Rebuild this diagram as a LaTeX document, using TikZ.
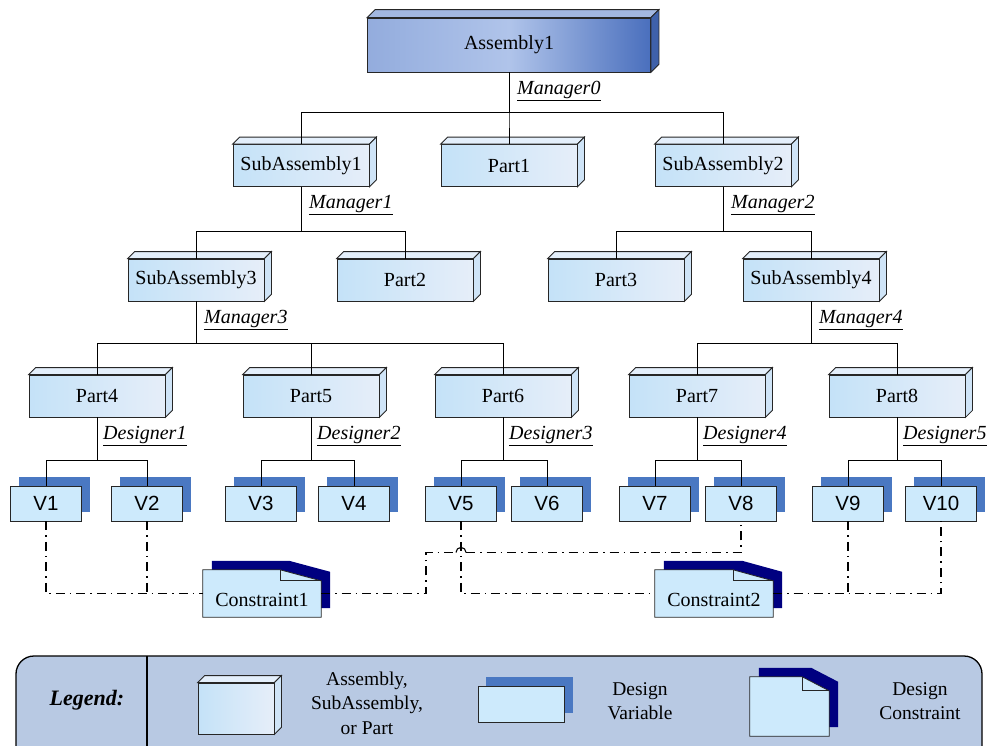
\documentclass[tikz,border=0pt]{standalone}
\usepackage{fontspec}
\setmainfont{Liberation Serif}
\setsansfont{Liberation Sans}
\usetikzlibrary{shadows,calc,backgrounds}

\definecolor{cubeL}{HTML}{C4E2F8}
\definecolor{cubeR}{HTML}{E6EEF9}
\definecolor{cubeTop}{HTML}{E4EFFB}
\definecolor{cubeSide}{HTML}{CFE4F7}
\definecolor{asmL}{HTML}{93ACDD}
\definecolor{asmM}{HTML}{B0C4EA}
\definecolor{asmR}{HTML}{4A6FBD}
\definecolor{asmTop}{HTML}{A2B7E0}
\definecolor{asmSide}{HTML}{3F61AA}
\definecolor{varFill}{HTML}{CDEAFC}
\definecolor{varShadow}{HTML}{4A78C2}
\definecolor{conShadow}{HTML}{000080}
\definecolor{legendFill}{HTML}{B8C9E3}

\newcommand\diagfont{\fontsize{20pt}{24pt}\selectfont}

% top and right faces of a 3D box node
\newcommand\cubefaces[4]{%
  \draw[boxline, fill=#3] (#1.north west) -- ++(#2,#2) -- ([shift={(#2,#2)}]#1.north east) -- (#1.north east) -- cycle;
  \draw[boxline, fill=#4] (#1.north east) -- ++(#2,#2) -- ([shift={(#2,#2)}]#1.south east) -- (#1.south east) -- cycle;
}
% sheet with folded corner and dark offset shadow: node, fold width, fold depth, shadow offset
\newcommand\consheet[4]{%
  \fill[conShadow] ([shift={(#4,#4)}]#1.south west) -- ([shift={(#4,#4)}]#1.north west)
    -- ([shift={(#4-#2,#4)}]#1.north east) -- ([shift={(#4,#4-#3)}]#1.north east)
    -- ([shift={(#4,#4)}]#1.south east) -- cycle;
  \draw[boxline, fill=varFill] (#1.south west) -- (#1.north west) -- ([xshift=-#2]#1.north east)
    -- ([yshift=-#3]#1.north east) -- (#1.south east) -- cycle;
  \draw[boxline] ([xshift=-#2]#1.north east) -- ([shift={(-#2,-#3)}]#1.north east) -- ([yshift=-#3]#1.north east);
}

\tikzset{
  boxline/.style={draw=black!85, line width=0.8pt},
  cube/.style={boxline, inner sep=0pt, minimum width=136pt, minimum height=42pt,
    left color=cubeL, right color=cubeR, font=\diagfont},
  varbox/.style={boxline, fill=varFill, inner sep=0pt, minimum width=71pt, minimum height=35pt,
    font=\sffamily\fontsize{20.5pt}{24pt}\selectfont,
    general shadow={fill=varShadow, draw=none, shadow xshift=8pt, shadow yshift=9pt}},
  cons/.style={inner sep=0pt, minimum width=118pt, minimum height=47pt, font=\diagfont,
    text height=25pt, text depth=0pt},
  tree/.style={draw=black, line width=0.9pt},
  dd/.style={draw=black, line width=1.1pt, dash pattern=on 9pt off 5pt on 1.5pt off 5pt},
  hopline/.style={draw=black, line width=1.1pt},
  lbl/.style={font=\diagfont\itshape, inner sep=0pt, anchor=base west},
  legtext/.style={font=\fontsize{19.5pt}{24.5pt}\selectfont, align=center, inner sep=0pt}
}

\begin{document}
\begin{tikzpicture}[x=1pt,y=-1pt]
\useasboundingbox (0,0) rectangle (994,745);

% legend frame
\begin{pgfonlayer}{background}
  \node[draw=black, line width=1.3pt, fill=legendFill, rounded corners=18pt, inner sep=0pt,
        minimum width=966pt, minimum height=116pt] (legend) at (499,714) {};
  \draw[line width=1.3pt] (147,656) -- (147,750);
\end{pgfonlayer}

% assembly tree
\node[cube, minimum width=283pt, minimum height=54pt, left color=asmL, right color=asmR, middle color=asmM] (a1) at (509,45) {Assembly1};
\cubefaces{a1}{8pt}{asmTop}{asmSide}

\node[cube] (s1) at (301,165.5) {SubAssembly1};
\node[cube] (p1) at (509,165.5) {Part1};
\node[cube] (s2) at (723,165.5) {SubAssembly2};
\node[cube] (s3) at (196,280) {SubAssembly3};
\node[cube] (p2) at (405,280) {Part2};
\node[cube] (p3) at (616,280) {Part3};
\node[cube] (s4) at (811,280) {SubAssembly4};
\node[cube] (p4) at (97,396) {Part4};
\node[cube] (p5) at (311,396) {Part5};
\node[cube] (p6) at (503,396) {Part6};
\node[cube] (p7) at (697,396) {Part7};
\node[cube] (p8) at (897,396) {Part8};
\foreach \n in {s1,p1,s2,s3,p2,p3,s4,p4,p5,p6,p7,p8}{\cubefaces{\n}{7pt}{cubeTop}{cubeSide}}

% design variables
\node[varbox] (v1) at (46,503.5) {V1};
\node[varbox] (v2) at (147,503.5) {V2};
\node[varbox] (v3) at (261,503.5) {V3};
\node[varbox] (v4) at (354,503.5) {V4};
\node[varbox] (v5) at (461,503.5) {V5};
\node[varbox] (v6) at (547,503.5) {V6};
\node[varbox] (v7) at (655,503.5) {V7};
\node[varbox] (v8) at (741,503.5) {V8};
\node[varbox] (v9) at (848,503.5) {V9};
\node[varbox] (v10) at (941,503.5) {V10};

% tree connectors
\foreach \c in {s1,p1,s2}{\draw[tree] (a1.south) -- ++(0,40) -| (\c.north);}
\foreach \c in {s3,p2}{\draw[tree] (s1.south) -- ++(0,45) -| (\c.north);}
\foreach \c in {p3,s4}{\draw[tree] (s2.south) -- ++(0,45) -| (\c.north);}
\foreach \c in {p4,p5,p6}{\draw[tree] (s3.south) -- ++(0,42) -| (\c.north);}
\foreach \c in {p7,p8}{\draw[tree] (s4.south) -- ++(0,42) -| (\c.north);}
\foreach \p/\a/\b in {p4/v1/v2,p5/v3/v4,p6/v5/v6,p7/v7/v8,p8/v9/v10}{
  \draw[tree] (\p.south) -- ++(0,43) -| (\a.north);
  \draw[tree] (\p.south) -- ++(0,43) -| (\b.north);
}

% owner labels
\node[lbl] (m0) at ([shift={(8pt,-22pt)}]a1.south) {\underline{Manager0}};
\node[lbl] (m1) at ([shift={(8pt,-22pt)}]s1.south) {\underline{Manager1}};
\node[lbl] (m2) at ([shift={(8pt,-22pt)}]s2.south) {\underline{Manager2}};
\node[lbl] (m3) at ([shift={(8pt,-22pt)}]s3.south) {\underline{Manager3}};
\node[lbl] (m4) at ([shift={(8pt,-22pt)}]s4.south) {\underline{Manager4}};
\node[lbl] (d1) at ([shift={(6pt,-22pt)}]p4.south) {\underline{Designer1}};
\node[lbl] (d2) at ([shift={(6pt,-22pt)}]p5.south) {\underline{Designer2}};
\node[lbl] (d3) at ([shift={(6pt,-22pt)}]p6.south) {\underline{Designer3}};
\node[lbl] (d4) at ([shift={(6pt,-22pt)}]p7.south) {\underline{Designer4}};
\node[lbl] (d5) at ([shift={(6pt,-22pt)}]p8.south) {\underline{Designer5}};

% constraints
\node[cons] (c1) at (262,593.5) {Constraint1};
\node[cons] (c2) at (714,593.5) {Constraint2};
\begin{pgfonlayer}{background}
  \consheet{c1}{41pt}{11pt}{9pt}
  \consheet{c2}{40pt}{11pt}{9pt}
\end{pgfonlayer}

% constraint links; the V1/V2 -- V8 link hops over the V5 link
\coordinate (hop) at ($(v5.south)+(0,31)$);
\draw[dd] (v1.south) |- (c1.west);
\draw[dd] (v2.south) -- (v2.south |- c1.west);
\draw[dd] (c1.east) -| ([xshift=-35pt]hop) -- ([xshift=-5pt]hop);
\draw[hopline] ([xshift=-5pt]hop) arc[start angle=180, end angle=0, radius=5pt];
\draw[dd] ([xshift=5pt]hop) -| (v8.south);
\draw[dd] (v5.south) |- (c2.west);
\draw[dd] (c2.east) -| (v10.south);
\draw[dd] (v9.south) -- (v9.south |- c2.east);

% legend
\node[font=\fontsize{22pt}{26pt}\selectfont\bfseries\itshape] (legtitle) at (87,700) {Legend:};
\node[cube, minimum width=76pt, minimum height=51pt] (lg1) at (236,708.5) {};
\cubefaces{lg1}{7pt}{cubeTop}{cubeSide}
\node[legtext] (lt1) at (367,703) {Assembly,\\SubAssembly,\\or Part};
\node[varbox, minimum width=86pt, minimum height=36pt, general shadow={fill=varShadow, draw=none, shadow xshift=9pt, shadow yshift=9pt}] (lg2) at (521,704) {};
\node[legtext] (lt2) at (640,701) {Design\\Variable};
\node[inner sep=0pt, minimum width=79pt, minimum height=59pt] (lg3) at (789.5,706.5) {};
\begin{pgfonlayer}{background}
  \consheet{lg3}{27pt}{14pt}{9pt}
\end{pgfonlayer}
\node[legtext] (lt3) at (920,701) {Design\\Constraint};
\end{tikzpicture}
\end{document}
